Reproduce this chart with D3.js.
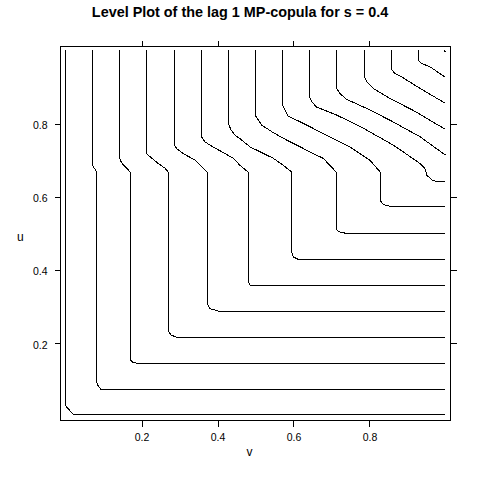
<!DOCTYPE html>
<html><head><meta charset="utf-8">
<script src="https://cdn.jsdelivr.net/npm/d3@7"></script>
<style>
html,body{margin:0;padding:0;background:#fff;}
svg{display:block;}
text{font-family:"Liberation Sans",Arial,sans-serif;fill:#000;}
</style></head><body>
<svg id="chart" width="480" height="480"></svg>
<script>
const titleText = "Level Plot of the lag 1 MP-copula for s = 0.4";
const xLabel = "v";
const yLabel = "u";
const xTicks = [0.2, 0.4, 0.6, 0.8];
const yTicks = [0.2, 0.4, 0.6, 0.8];
const xDomain = [-0.0132, 1.0132];
const yDomain = [-0.0102, 1.0102];

// contour lines as [v, u] points
const c01 = [[0,1],[0,0.030],[0.021,0.006],[1,0.006]];
const c02 = [[0.071,1],[0.071,0.686],[0.082,0.668],[0.082,0.095],[0.086,0.084],[0.093,0.075],[1,0.075]];
const c03 = [[0.142,1],[0.142,0.711],[0.144,0.700],[0.149,0.691],[0.171,0.667],[0.171,0.155],[0.177,0.148],[0.190,0.146],[1,0.146]];
const c04 = [[0.213,1],[0.213,0.718],[0.244,0.691],[0.262,0.678],[0.271,0.667],[0.271,0.235],[0.277,0.223],[0.293,0.217],[1,0.217]];
const c05 = [[0.286,1],[0.286,0.743],[0.293,0.731],[0.310,0.718],[0.341,0.700],[0.363,0.677],[0.373,0.667],[0.373,0.309],[0.380,0.295],[0.407,0.287],[1,0.287]];
const c06 = [[0.358,1],[0.358,0.764],[0.367,0.750],[0.385,0.738],[0.420,0.718],[0.442,0.705],[0.459,0.686],[0.481,0.667],[0.481,0.368],[0.486,0.358],[1,0.358]];
const c07 = [[0.430,1],[0.430,0.796],[0.436,0.782],[0.446,0.768],[0.459,0.759],[0.486,0.736],[0.512,0.723],[0.547,0.705],[0.573,0.686],[0.595,0.668],[0.595,0.449],[0.600,0.436],[0.613,0.429],[1,0.429]];
const c08 = [[0.501,1],[0.501,0.820],[0.516,0.796],[0.547,0.775],[0.582,0.755],[0.643,0.723],[0.678,0.705],[0.696,0.686],[0.712,0.668],[0.712,0.514],[0.718,0.505],[0.740,0.500],[1,0.500]];
const c09 = [[0.571,1],[0.571,0.850],[0.586,0.820],[0.617,0.805],[0.678,0.773],[0.749,0.736],[0.801,0.700],[0.828,0.668],[0.828,0.591],[0.836,0.579],[0.858,0.573],[1,0.573]];
const c10 = [[0.642,1],[0.642,0.873],[0.648,0.859],[0.661,0.845],[0.714,0.823],[0.784,0.787],[0.863,0.741],[0.933,0.691],[0.946,0.677],[0.951,0.659],[0.964,0.646],[0.977,0.642],[1,0.642]];
const c11 = [[0.714,1],[0.714,0.896],[0.722,0.882],[0.740,0.866],[0.793,0.841],[0.854,0.809],[0.933,0.764],[1,0.714]];
const c12 = [[0.787,1],[0.787,0.927],[0.793,0.914],[0.810,0.896],[0.854,0.868],[0.915,0.836],[1,0.784]];
const c13 = [[0.858,1],[0.858,0.947],[0.867,0.937],[0.885,0.927],[0.933,0.896],[1,0.855]];
const c14 = [[0.928,1],[0.928,0.973],[0.937,0.964],[0.959,0.955],[1,0.926]];
const c15 = [[0.997,1],[1,0.994]];
const contours = [c01,c02,c03,c04,c05,c06,c07,c08,c09,c10,c11,c12,c13,c14,c15];

const svg = d3.select("#chart");
const L = 60.5, R = 450.5, T = 46.5, B = 420.5;
const x = d3.scaleLinear().domain(xDomain).range([L, R]);
const y = d3.scaleLinear().domain(yDomain).range([B, T]);

const fmt = d3.format(".1f");
function styleAxis(g, labels) {
  g.select(".domain").remove();
  g.selectAll(".tick line").attr("stroke", "#000").attr("shape-rendering", "crispEdges");
  g.attr("font-family", null).attr("font-size", null);
  g.selectAll(".tick text").style("font-size", "10.5px").attr("fill", "#000");
  if (!labels) g.selectAll(".tick text").remove();
}

svg.append("g").attr("transform", `translate(0,${B})`)
  .call(d3.axisBottom(x).tickValues(xTicks).tickSize(6).tickPadding(7).tickFormat(fmt))
  .call(g => styleAxis(g, true));
svg.append("g").attr("transform", `translate(0,${T})`)
  .call(d3.axisTop(x).tickValues(xTicks).tickSize(6).tickFormat(""))
  .call(g => styleAxis(g, false));
svg.append("g").attr("transform", `translate(${L},0)`)
  .call(d3.axisLeft(y).tickValues(yTicks).tickSize(6).tickPadding(7).tickFormat(fmt))
  .call(g => styleAxis(g, true))
  .call(g => g.selectAll(".tick text").attr("dy", "0.45em"));
svg.append("g").attr("transform", `translate(${R},0)`)
  .call(d3.axisRight(y).tickValues(yTicks).tickSize(6).tickFormat(""))
  .call(g => styleAxis(g, false));

svg.append("rect")
  .attr("x", L).attr("y", T).attr("width", R - L).attr("height", B - T)
  .attr("fill", "none").attr("stroke", "#000").attr("stroke-width", 1)
  .attr("shape-rendering", "crispEdges");

const line = d3.line().x(d => x(d[0])).y(d => y(d[1]));
svg.append("g").selectAll("path").data(contours).join("path")
  .attr("d", line)
  .attr("fill", "none").attr("stroke", "#000").attr("stroke-width", 1)
  .attr("shape-rendering", "crispEdges");

svg.append("text").attr("x", 240).attr("y", 17).attr("text-anchor", "middle")
  .style("font-size", "14.4px").style("font-weight", "bold").text(titleText);
svg.append("text").attr("x", 249.5).attr("y", 456).attr("text-anchor", "middle")
  .style("font-size", "12px").text(xLabel);
svg.append("text").attr("x", 20.3).attr("y", 240.5).attr("text-anchor", "middle")
  .style("font-size", "12px").text(yLabel);
</script>
</body></html>
